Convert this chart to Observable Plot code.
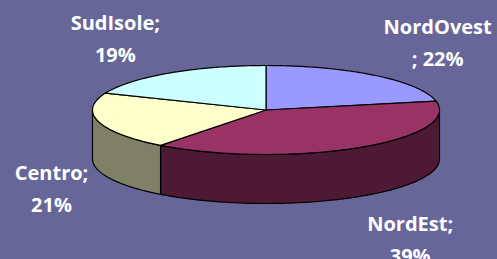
<!DOCTYPE html>
<html>
<head>
<meta charset="utf-8">
<script src="https://cdn.jsdelivr.net/npm/d3@7"></script>
<script src="https://cdn.jsdelivr.net/npm/@observablehq/plot@0.6"></script>
<style>
  html, body { margin: 0; padding: 0; background: #666699; }
  #chart svg { display: block; }
</style>
</head>
<body>
<div id="chart"></div>
<script>
// ---- data ----
const categories = ["NordOvest", "NordEst", "Centro", "SudIsole"];
const values = [22, 39, 21, 19];
const labelLines = ["NordOvest\n; 22%", "NordEst;\n39%", "Centro;\n21%", "SudIsole;\n19%"];

// ---- styles / layout ----
const topColors = ["#9999FF", "#993366", "#FFFFCC", "#CCFFFF"];
const sideColors = ["#4D4D80", "#4D1933", "#808066", "#668080"];
const labelOffsets = [[62, -36], [52, 89], [-47, 64], [-54, -37]];
const W = 497, H = 259;
const cx = 265.5, cy = 109.5, rx = 173.5, ry = 44.5, depth = 49;

const total = d3.sum(values);
const pt = (a, dz = 0) => ({x: cx + rx * Math.sin(a), y: cy - ry * Math.cos(a) + dz});
const arc = (a0, a1, dz) => {
  const n = Math.max(2, Math.ceil(Math.abs(a1 - a0) / (Math.PI / 180)));
  return d3.range(n + 1).map(i => pt(a0 + (a1 - a0) * i / n, dz));
};

let acc = 0;
const slices = categories.map((c, i) => {
  const a0 = acc / total * 2 * Math.PI;
  acc += values[i];
  const a1 = acc / total * 2 * Math.PI;
  return {c, i, a0, a1, mid: (a0 + a1) / 2};
});

const marks = [];
// visible side walls (front half)
for (const s of slices) {
  const s0 = Math.max(s.a0, Math.PI / 2), s1 = Math.min(s.a1, 3 * Math.PI / 2);
  if (s1 > s0) {
    const poly = [...arc(s0, s1, 0), ...arc(s1, s0, depth)];
    marks.push(Plot.line(poly, {x: "x", y: "y", curve: "linear-closed", fill: sideColors[s.i], stroke: "black", strokeWidth: 1.2, strokeLinejoin: "round"}));
  }
}
// tops
for (const s of slices) {
  const poly = [{x: cx, y: cy}, ...arc(s.a0, s.a1, 0)];
  marks.push(Plot.line(poly, {x: "x", y: "y", curve: "linear-closed", fill: topColors[s.i], stroke: "black", strokeWidth: 1.2, strokeLinejoin: "round"}));
}
// labels
for (const s of slices) {
  const p = pt(s.mid);
  marks.push(Plot.text([{x: p.x, y: p.y, t: labelLines[s.i]}], {
    x: "x", y: "y", text: "t", dx: labelOffsets[s.i][0], dy: labelOffsets[s.i][1],
    fill: "white", fontWeight: "bold", fontSize: 20, lineHeight: 1.6,
    fontFamily: "Open Sans", textAnchor: "middle", lineAnchor: "middle"
  }));
}

const chart = Plot.plot({
  width: W, height: H,
  margin: 0,
  x: {domain: [0, W], range: [0, W], axis: null},
  y: {domain: [0, H], range: [0, H], axis: null},
  style: {background: "#666699", overflow: "visible"},
  marks
});
document.getElementById("chart").appendChild(chart);
</script>
</body>
</html>
